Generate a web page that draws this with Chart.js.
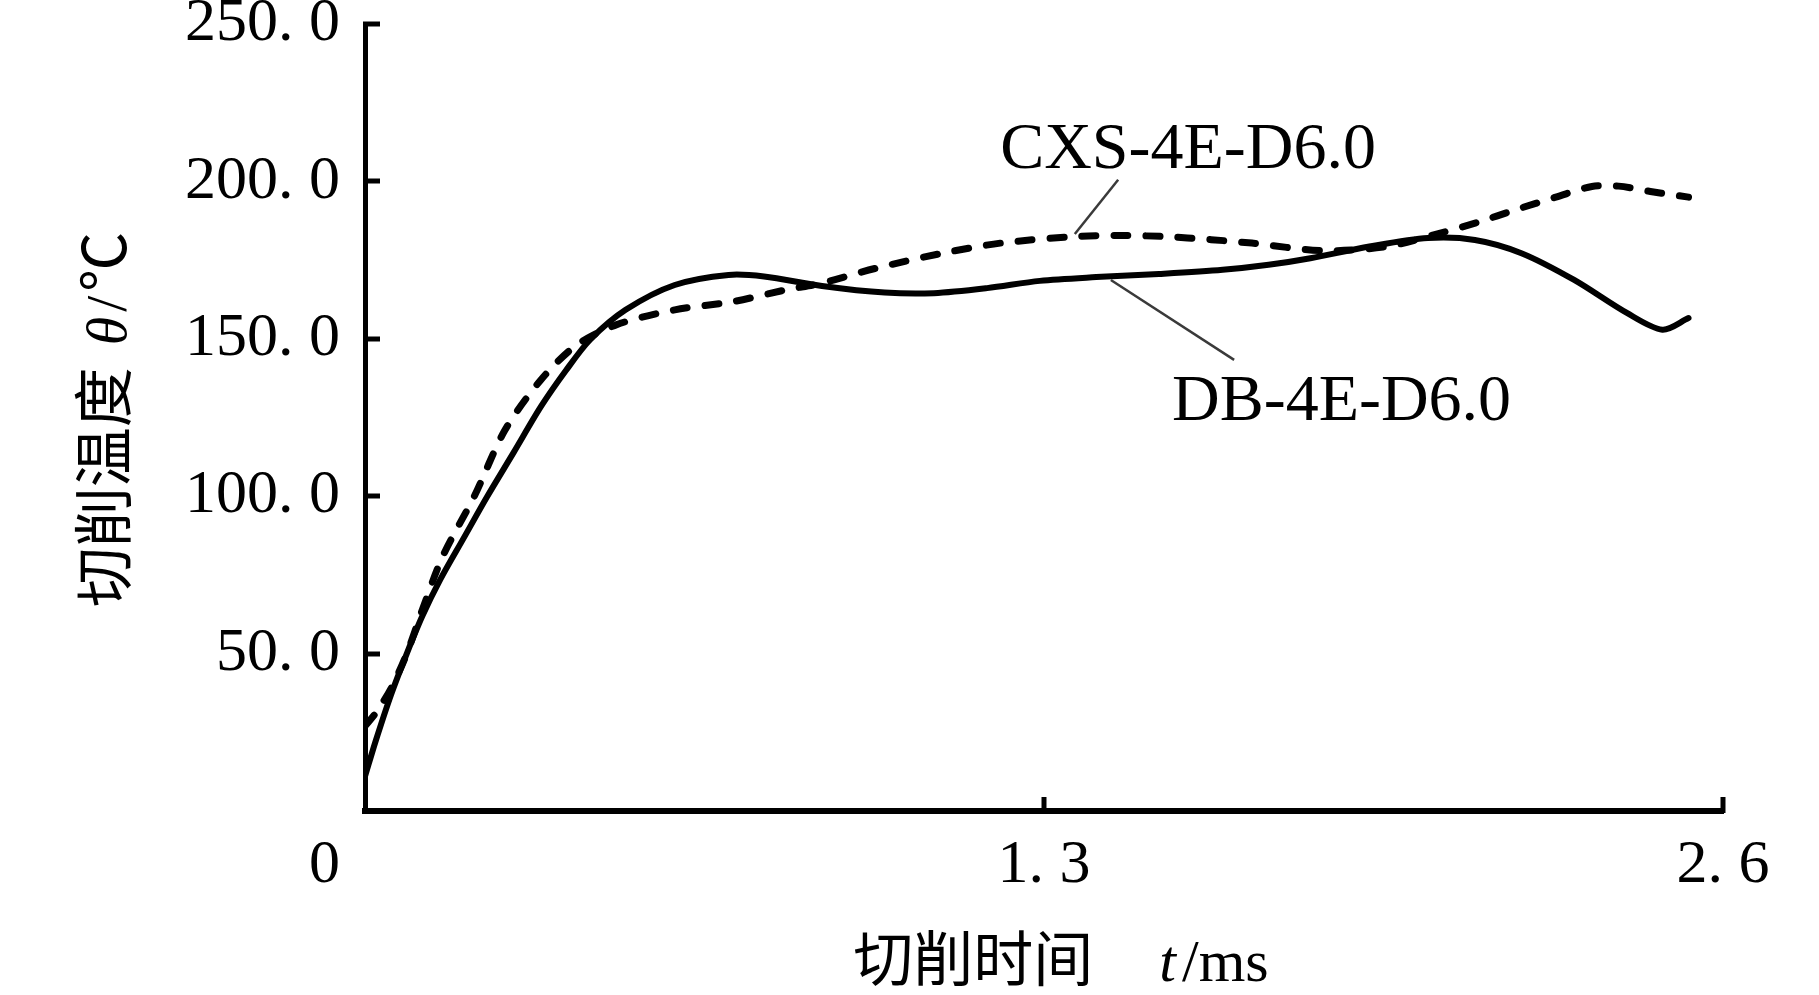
<!DOCTYPE html>
<html>
<head>
<meta charset="utf-8">
<script src="https://cdn.jsdelivr.net/npm/chart.js@4.4.1/dist/chart.umd.min.js"></script>
<style>
html,body{margin:0;padding:0;background:#fff;}
#wrap{width:1819px;height:995px;position:relative;}
</style>
</head>
<body>
<div id="wrap"><canvas id="c"></canvas></div>
<script>
// ---- data ----
const seriesNames = ['DB-4E-D6.0', 'CXS-4E-D6.0'];

const dbTime = [0, 0.02, 0.05, 0.08, 0.11, 0.144, 0.19, 0.234, 0.285, 0.337, 0.385, 0.431, 0.499, 0.593, 0.696, 0.764, 0.875, 0.995, 1.089, 1.191, 1.292, 1.40, 1.52, 1.642, 1.73, 1.81, 1.923, 2.035, 2.125, 2.214, 2.315, 2.416, 2.484, 2.534];
const dbTemp = [11, 22, 37, 50, 62, 73.5, 87, 99.9, 114, 128.5, 140, 149.7, 159.2, 167.1, 170.3, 169.8, 166.8, 164.7, 164.5, 166.1, 168.4, 169.6, 170.6, 171.9, 173.5, 175.6, 179.3, 182, 181.4, 177.2, 168.7, 158.2, 152.9, 156.6];

const cxsTime = [0, 0.02, 0.05, 0.08, 0.11, 0.149, 0.209, 0.268, 0.337, 0.405, 0.482, 0.593, 0.704, 0.807, 0.875, 0.978, 1.106, 1.217, 1.361, 1.45, 1.529, 1.62, 1.698, 1.833, 1.956, 2.057, 2.13, 2.203, 2.28, 2.349, 2.40, 2.461, 2.534];
const cxsTemp = [27, 31, 39, 50, 64, 81, 99.9, 121, 137, 148, 154.5, 159.2, 161.8, 165.6, 167.7, 172.4, 177.2, 180.4, 182.5, 182.8, 182.5, 181.5, 180.4, 178, 179.3, 183.5, 187, 191, 195, 198.4, 198.5, 196.8, 195];

const xTickValues = [0, 1.3, 2.6];
const xTickLabels = ['', '1. 3', '2. 6'];
const yTickValues = [0, 50, 100, 150, 200, 250];
const yTickLabels = [['', '0'], '50. 0', '100. 0', '150. 0', '200. 0', '250. 0'];

const xTitleParts = ['切削时间', 't', '/ms'];
const yTitleParts = ['切削温度', 'θ', '/', '℃'];

// ---- styling ----
const SERIF = '"Liberation Serif", "DejaVu Serif", serif';
const CJK = '"Noto Sans CJK SC", "Noto Sans CJK JP", sans-serif';

const annotations = [
  { text: seriesNames[1], tx: 1.216, tv: 204.3, from: [1.442, 200.5], to: [1.359, 183.3] },
  { text: seriesNames[0], tx: 1.545, tv: 124.3, from: [1.428, 168.7], to: [1.664, 143.3] }
];

function drawRich(ctx, segs, cx, baseY, rot) {
  ctx.save();
  ctx.translate(cx, baseY);
  ctx.rotate(rot);
  ctx.textBaseline = 'alphabetic';
  ctx.textAlign = 'left';
  ctx.fillStyle = '#000';
  let total = 0;
  segs.forEach(s => { ctx.font = s.font; s.w = ctx.measureText(s.text).width; total += s.w + (s.gap || 0); });
  let x = -total / 2;
  segs.forEach(s => { ctx.font = s.font; ctx.fillText(s.text, x, 0); x += s.w + (s.gap || 0); });
  ctx.restore();
}

const decorPlugin = {
  id: 'decor',
  beforeDatasetsDraw(chart) {
    const ctx = chart.ctx, ca = chart.chartArea;
    const xs = chart.scales.x, ys = chart.scales.y;
    ctx.save();
    ctx.strokeStyle = '#000';
    ctx.lineCap = 'butt';
    ctx.lineWidth = 5;
    yTickValues.forEach(v => {
      if (v === 0) return;
      const y = Math.round(ys.getPixelForValue(v));
      ctx.beginPath(); ctx.moveTo(ca.left - 2, y); ctx.lineTo(ca.left + 15, y); ctx.stroke();
    });
    xTickValues.forEach(v => {
      if (v === 0) return;
      const x = Math.round(xs.getPixelForValue(v));
      ctx.beginPath(); ctx.moveTo(x, ca.bottom + 2); ctx.lineTo(x, ca.bottom - 14); ctx.stroke();
    });
    ctx.restore();
  },
  afterDraw(chart) {
    const ctx = chart.ctx, ca = chart.chartArea;
    const xs = chart.scales.x, ys = chart.scales.y;
    ctx.save();
    annotations.forEach(a => {
      ctx.strokeStyle = '#3a3a3a';
      ctx.lineWidth = 2.5;
      ctx.beginPath();
      ctx.moveTo(xs.getPixelForValue(a.from[0]), ys.getPixelForValue(a.from[1]));
      ctx.lineTo(xs.getPixelForValue(a.to[0]), ys.getPixelForValue(a.to[1]));
      ctx.stroke();
      ctx.fillStyle = '#000';
      ctx.font = '66px ' + SERIF;
      ctx.textAlign = 'left';
      ctx.textBaseline = 'alphabetic';
      ctx.fillText(a.text, xs.getPixelForValue(a.tx), ys.getPixelForValue(a.tv));
    });
    ctx.restore();
    drawRich(ctx, [
      { text: xTitleParts[0], font: '60px ' + CJK, gap: 66 },
      { text: xTitleParts[1], font: 'italic 60px ' + SERIF, gap: 6 },
      { text: xTitleParts[2], font: '60px ' + SERIF }
    ], (ca.left + ca.right) / 2 + 17, ca.bottom + 170, 0);
    drawRich(ctx, [
      { text: yTitleParts[0], font: '60px ' + CJK, gap: 22 },
      { text: yTitleParts[1], font: 'italic 58px ' + SERIF, gap: 5 },
      { text: yTitleParts[2], font: '58px ' + SERIF, gap: 4 },
      { text: yTitleParts[3], font: '60px ' + CJK }
    ], ca.left - 239, (ca.top + ca.bottom) / 2 + 2, -Math.PI / 2);
  }
};

const toPts = (t, v) => t.map((x, i) => ({ x: x, y: v[i] }));

new Chart(document.getElementById('c'), {
  type: 'line',
  data: {
    datasets: [
      {
        label: seriesNames[0],
        data: toPts(dbTime, dbTemp),
        borderColor: '#000',
        borderWidth: 6,
        tension: 0.3,
        pointRadius: 0,
        fill: false,
        borderCapStyle: 'round',
        borderJoinStyle: 'round'
      },
      {
        label: seriesNames[1],
        data: toPts(cxsTime, cxsTemp),
        borderColor: '#000',
        borderWidth: 7,
        borderDash: [14, 18],
        borderCapStyle: 'round',
        tension: 0.3,
        pointRadius: 0,
        fill: false
      }
    ]
  },
  options: {
    responsive: true,
    maintainAspectRatio: false,
    devicePixelRatio: 1,
    animation: false,
    layout: { padding: { top: 24, right: 96, left: 0, bottom: 0 } },
    plugins: { legend: { display: false }, tooltip: { enabled: false } },
    scales: {
      x: {
        type: 'linear',
        position: 'bottom',
        min: 0,
        max: 2.6,
        grid: { display: true, drawOnChartArea: false, drawTicks: false },
        border: { display: true, width: 6, color: '#000' },
        ticks: {
          color: '#000',
          font: { family: SERIF, size: 62, lineHeight: 1.2 },
          padding: 18,
          autoSkip: false,
          maxRotation: 0,
          callback: (v) => { const i = xTickValues.indexOf(v); return i >= 0 ? xTickLabels[i] : ''; }
        },
        afterBuildTicks: s => { s.ticks = xTickValues.map(v => ({ value: v })); },
        afterFit: s => { s.height = 184; s.paddingLeft = 0; s.paddingRight = 0; }
      },
      y: {
        type: 'linear',
        position: 'left',
        min: 0,
        max: 250,
        grid: { display: true, drawOnChartArea: false, drawTicks: false },
        border: { display: true, width: 5, color: '#000' },
        ticks: {
          color: '#000',
          font: { family: SERIF, size: 62, lineHeight: 110 / 62 },
          padding: 25,
          autoSkip: false,
          callback: (v) => { const i = yTickValues.indexOf(v); return i >= 0 ? yTickLabels[i] : ''; }
        },
        afterBuildTicks: s => { s.ticks = yTickValues.map(v => ({ value: v })); },
        afterFit: s => { s.width = 365; s.paddingTop = 0; s.paddingBottom = 0; }
      }
    }
  },
  plugins: [decorPlugin]
});
</script>
</body>
</html>
